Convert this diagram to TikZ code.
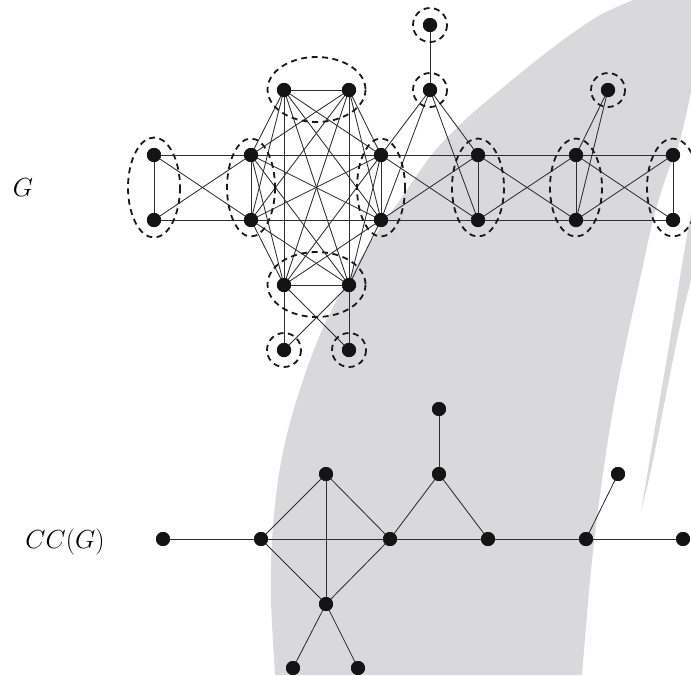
\documentclass[tikz,border=0pt]{standalone}
\definecolor{bandgray}{RGB}{217,217,219}
\begin{document}
\begin{tikzpicture}[x=1pt,y=-1pt,
  vtx/.style={circle,fill=black!92,draw=none,inner sep=0pt,minimum size=14pt},
  edge/.style={line width=0.85pt,black!82},
  clq/.style={line width=1.8pt,dash pattern=on 6pt off 4.5pt,black!90},
  lbl/.style={font=\Huge,inner sep=0pt,scale=1.05}]
\useasboundingbox (0,0) rectangle (691,675);
\clip (0,0) rectangle (691,675);
% background band
\fill[bandgray] (691,0) -- plot[smooth] coordinates {(691,92) (680,140) (665,180) (653,220) (642,270) (631,320) (618,383) (608,440) (598,510) (590,580) (582,675)}
  -- plot[smooth] coordinates {(275,675) (271,600) (272,540) (278,480) (288,430) (303,380) (322,330) (345,285) (372,240) (400,200) (433,153) (467,118) (500,90) (533,63) (567,37) (600,15) (633,0)} -- cycle;
\fill[bandgray] plot[smooth] coordinates {(691,212) (682,265) (670,340) (658,410) (648,470) (641,512)}
  -- plot[smooth] coordinates {(641,512) (651,470) (663,410) (677,340) (686,300) (691,280)} -- cycle;

% labels
\node[lbl] (gl) at (23,188) {$G$};
\node[lbl] (ccl) at (65,542) {$CC(G)$};

% ---------- G ----------
\node[vtx] (L1) at (154,155) {};
\node[vtx] (L2) at (154,220) {};
\node[vtx] (A1) at (251,155) {};
\node[vtx] (A2) at (251,220) {};
\node[vtx] (T1) at (284,90) {};
\node[vtx] (T2) at (349,90) {};
\node[vtx] (B1) at (284,285) {};
\node[vtx] (B2) at (349,285) {};
\node[vtx] (M1) at (381,155) {};
\node[vtx] (M2) at (381,220) {};
\node[vtx] (P) at (430,90) {};
\node[vtx] (Q) at (430,25) {};
\node[vtx] (D1) at (478,155) {};
\node[vtx] (D2) at (478,220) {};
\node[vtx] (R) at (608,90) {};
\node[vtx] (E1) at (576,155) {};
\node[vtx] (E2) at (576,220) {};
\node[vtx] (F1) at (673,155) {};
\node[vtx] (F2) at (673,220) {};
\node[vtx] (BL) at (284,350) {};
\node[vtx] (BR) at (349,350) {};

\foreach \u/\v in {L1/L2,L1/A1,L2/A2,L1/A2,L2/A1,
  A1/A2,A1/T1,A1/T2,A1/B1,A1/B2,A1/M1,A1/M2,
  A2/T1,A2/T2,A2/B1,A2/B2,A2/M1,A2/M2,
  T1/T2,T1/B1,T1/B2,T1/M1,T1/M2,
  T2/B1,T2/B2,T2/M1,T2/M2,
  B1/B2,B1/M1,B1/M2,B2/M1,B2/M2,M1/M2,
  M1/D1,M2/D2,M1/D2,M2/D1,D1/D2,
  P/M1,P/M2,P/D1,P/D2,P/Q,
  D1/E1,D2/E2,D1/E2,D2/E1,E1/E2,
  R/E1,R/E2,
  E1/F1,E2/F2,E1/F2,E2/F1,F1/F2,
  B1/BL,B1/BR,B2/BL,B2/BR}
  \draw[edge] (\u.center) -- (\v.center);

% cliques
\draw[clq] (154,187.5) ellipse [x radius=26, y radius=50];
\draw[clq] (251,187.5) ellipse [x radius=24, y radius=49];
\draw[clq] (381,187.5) ellipse [x radius=24, y radius=49];
\draw[clq] (478,187.5) ellipse [x radius=26, y radius=49];
\draw[clq] (576,187.5) ellipse [x radius=26, y radius=49];
\draw[clq] (673,187.5) ellipse [x radius=26, y radius=49];
\draw[clq] (316.5,89.5) ellipse [x radius=49, y radius=32.5];
\draw[clq] (316.5,284.5) ellipse [x radius=49, y radius=32.5];
\draw[clq] (430,25) circle [radius=17];
\draw[clq] (430,90) circle [radius=17];
\draw[clq] (608,90) circle [radius=17];
\draw[clq] (284,350) circle [radius=17];
\draw[clq] (349,350) circle [radius=17];

% dots on top
\foreach \n in {L1,L2,A1,A2,T1,T2,B1,B2,M1,M2,P,Q,D1,D2,R,E1,E2,F1,F2,BL,BR}
  \fill[black!92] (\n.center) circle [radius=7.1];

% ---------- CC(G) ----------
\node[vtx] (cL) at (163,539) {};
\node[vtx] (cA) at (261,539) {};
\node[vtx] (cT) at (326,474) {};
\node[vtx] (cBo) at (326,604) {};
\node[vtx] (cB) at (390,539) {};
\node[vtx] (cQ) at (439,409) {};
\node[vtx] (cP) at (439,474) {};
\node[vtx] (cC) at (488,539) {};
\node[vtx] (cD) at (586,539) {};
\node[vtx] (cR) at (618,474) {};
\node[vtx] (cE) at (683,539) {};
\node[vtx] (cBL) at (293,668) {};
\node[vtx] (cBR) at (358,668) {};
\foreach \u/\v in {cL/cA,cA/cB,cB/cC,cC/cD,cD/cE,
  cA/cT,cA/cBo,cT/cB,cBo/cB,cT/cBo,
  cB/cP,cP/cC,cP/cQ,cD/cR,cBo/cBL,cBo/cBR}
  \draw[edge] (\u.center) -- (\v.center);
\foreach \n in {cL,cA,cT,cBo,cB,cQ,cP,cC,cD,cR,cE,cBL,cBR}
  \fill[black!92] (\n.center) circle [radius=7];
\end{tikzpicture}
\end{document}
